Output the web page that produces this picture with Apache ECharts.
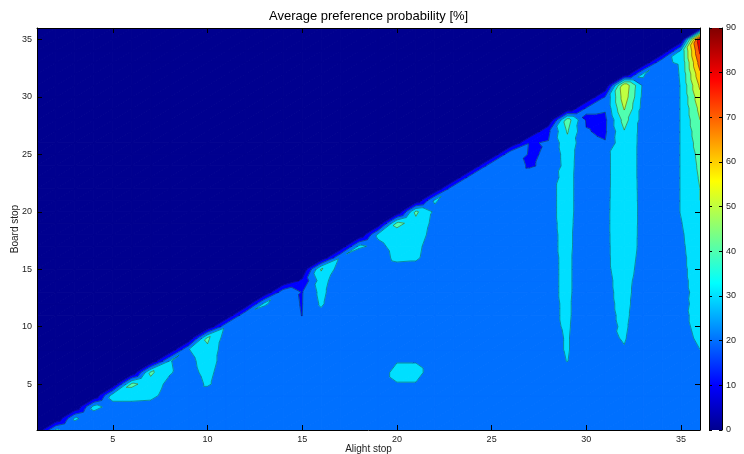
<!DOCTYPE html>
<html>
<head>
<meta charset="utf-8">
<title>Average preference probability</title>
<script src="https://cdn.jsdelivr.net/npm/echarts@6/dist/echarts.min.js"></script>
<style>
  html, body { margin: 0; padding: 0; background: #fff; }
  #chart { width: 744px; height: 454px; }
</style>
</head>
<body>
<div id="chart"></div>
<script>
// stop numbers on both axes
const alightStops = [1, 2, 3, 4, 5, 6, 7, 8, 9, 10, 11, 12, 13, 14, 15, 16, 17, 18, 19, 20, 21, 22, 23, 24, 25, 26, 27, 28, 29, 30, 31, 32, 33, 34, 35, 36]
const boardStops = [1, 2, 3, 4, 5, 6, 7, 8, 9, 10, 11, 12, 13, 14, 15, 16, 17, 18, 19, 20, 21, 22, 23, 24, 25, 26, 27, 28, 29, 30, 31, 32, 33, 34, 35, 36]
const stopTicks = [5, 10, 15, 20, 25, 30, 35]
const levels = [0, 10, 20, 30, 40, 50, 60, 70, 80, 90]

// preference probability [%]; row = board stop 1..35, values for alight stop board+1 .. 36
// (board >= alight is 0)
const prob = [
  /* b1  */ [32, 22, 22, 22, 22, 22, 22, 22, 22, 22, 22, 22, 22, 22, 22, 22, 22, 22, 22, 22, 22, 22, 22, 22, 22, 22, 22, 22, 22, 22, 22, 22, 22, 22, 22],
  /* b2  */ [32, 22, 22, 22, 22, 22, 22, 22, 22, 22, 22, 22, 22, 22, 22, 22, 22, 22, 22, 22, 22, 22, 22, 22, 22, 22, 22, 22, 22, 22, 22, 22, 22, 22],
  /* b3  */ [34, 25, 25, 24, 22, 22, 22, 22, 22, 22, 22, 22, 22, 22, 22, 22, 22, 22, 22, 22, 22, 22, 22, 22, 22, 22, 22, 22, 22, 22, 22, 22, 22],
  /* b4  */ [35, 35, 34, 24, 22, 22, 22, 22, 22, 22, 22, 22, 22, 22, 22, 22, 22, 22, 22, 22, 22, 22, 22, 22, 22, 22, 22, 22, 22, 22, 22, 22],
  /* b5  */ [42, 36, 27, 22, 32, 22, 22, 22, 22, 22, 22, 22, 22, 22, 29, 29, 22, 22, 22, 22, 22, 22, 22, 22, 22, 22, 22, 22, 22, 22, 24],
  /* b6  */ [42, 31, 25, 34, 22, 22, 22, 22, 22, 22, 22, 22, 22, 35, 35, 22, 22, 22, 22, 22, 22, 22, 23, 22, 22, 22, 22, 22, 22, 26],
  /* b7  */ [30.5, 26, 36, 24, 22, 22, 22, 22, 22, 22, 22, 22, 29, 29, 22, 22, 22, 22, 22, 22, 25, 30.3, 22, 23, 25, 22, 22, 24, 28],
  /* b8  */ [29.5, 38, 24, 22, 22, 22, 22, 22, 22, 22, 22, 22, 22, 22, 22, 22, 22, 22, 22, 26, 31, 22, 25, 29.2, 22, 22, 27, 30],
  /* b9  */ [42, 25, 22, 22, 22, 22, 22, 22, 22, 22, 22, 22, 22, 22, 22, 22, 22, 22, 26, 31, 22, 27, 31, 22, 22, 28, 31],
  /* b10 */ [28, 22, 22, 22, 22, 22, 22, 22, 22, 22, 22, 22, 22, 22, 22, 22, 22, 27, 31.5, 22, 26, 32, 22, 22, 28.5, 31.5],
  /* b11 */ [28, 22, 22, 19.9, 27, 22, 22, 22, 22, 22, 22, 22, 22, 22, 22, 22, 27, 32, 22, 26, 33, 22, 22, 28.5, 32],
  /* b12 */ [32, 22, 19.7, 31.5, 22, 22, 22, 22, 22, 22, 22, 22, 22, 22, 22, 27, 32, 22, 26, 34, 22, 22, 28, 32.5],
  /* b13 */ [26, 19.5, 33, 22, 22, 22, 22, 22, 22, 22, 22, 22, 22, 22, 27, 32.5, 22, 26, 35, 22, 22, 27.5, 33],
  /* b14 */ [12, 35, 22, 22, 22, 22, 22, 22, 22, 22, 22, 22, 22, 27, 32.5, 22, 26, 36, 22, 22, 27.5, 34],
  /* b15 */ [41, 25, 22, 22, 25, 25, 22, 22, 22, 22, 22, 22, 27, 32.5, 22, 27, 37, 24, 22, 27.5, 35],
  /* b16 */ [29, 22, 24, 33, 32, 23, 22, 22, 22, 22, 22, 27, 32.5, 22, 27, 38, 25, 22, 27.5, 36],
  /* b17 */ [32, 27, 34, 33, 24, 22, 22, 22, 22, 22, 27, 33, 22, 27, 38.5, 26, 22, 28, 37],
  /* b18 */ [32, 37, 35, 26, 22, 22, 22, 22, 22, 27, 33, 22, 27, 39, 26, 22, 28.5, 38],
  /* b19 */ [42, 37, 27, 22, 22, 22, 22, 22, 27, 33.5, 22, 27, 39.5, 26, 22, 29.5, 39],
  /* b20 */ [42, 28, 22, 22, 22, 22, 22, 27, 34, 22, 27, 39.5, 26, 22, 30.5, 39],
  /* b21 */ [31, 25, 22, 22, 22, 22, 27, 34, 22, 27, 39, 26, 22, 30.5, 40],
  /* b22 */ [28, 22, 22, 22, 22, 27, 34, 22, 27, 38.5, 26, 22, 30.5, 40],
  /* b23 */ [28, 22, 22, 22, 25, 34, 22, 27, 38, 26, 22, 30.5, 41],
  /* b24 */ [28, 22, 19.5, 21, 34.5, 22, 27, 38, 26, 22, 30.5, 42],
  /* b25 */ [28, 19, 21, 35, 22, 27, 38, 26, 22, 30.5, 43],
  /* b26 */ [19.5, 20.5, 37, 22, 20.5, 38.5, 26, 22, 30.5, 45],
  /* b27 */ [18, 41, 20.5, 18.5, 39.5, 26, 22, 30.5, 47],
  /* b28 */ [45, 19, 18, 44, 26, 22, 30.5, 50],
  /* b29 */ [21, 21, 51, 26, 22, 30.5, 53],
  /* b30 */ [20.5, 56, 27, 22, 30.5, 57],
  /* b31 */ [58, 28, 22, 30.5, 62],
  /* b32 */ [31, 22, 31, 68],
  /* b33 */ [28, 31.5, 75],
  /* b34 */ [32, 82],
  /* b35 */ [88]
]

// fill colour of each band (jet, 0..90)
const bandColors = ['#00008F', '#0000FF', '#0070FF', '#00DFFF', '#50FFAF', '#BFFF40', '#FFCF00', '#FF6000', '#EF0000']
const jetStops = [
  [0, '#00008F'], [0.111, '#0000FF'], [0.365, '#00FFFF'],
  [0.619, '#FFFF00'], [0.873, '#FF0000'], [1, '#800000']
]

function valueAt (a, b) {
  if (a <= b) return 0
  return prob[b - 1][a - b - 1]
}

const cells = []
for (const a of alightStops.slice(0, -1)) {
  for (const b of boardStops.slice(0, -1)) cells.push([a, b])
}

function isSaddle (v00, v10, v01, v11) {
  for (const lev of levels) {
    const s00 = v00 >= lev
    const s10 = v10 >= lev
    const s01 = v01 >= lev
    const s11 = v11 >= lev
    if (s00 === s11 && s10 === s01 && s00 !== s10) return true
  }
  return false
}

// split a cell into triangles: along the rising diagonal, or round the
// cell centre (mean value) when the cell is a saddle
function cellTriangles (a, b) {
  const p00 = [a, b, valueAt(a, b)]
  const p10 = [a + 1, b, valueAt(a + 1, b)]
  const p01 = [a, b + 1, valueAt(a, b + 1)]
  const p11 = [a + 1, b + 1, valueAt(a + 1, b + 1)]
  if (isSaddle(p00[2], p10[2], p01[2], p11[2])) {
    const c = [a + 0.5, b + 0.5, (p00[2] + p10[2] + p01[2] + p11[2]) / 4]
    return [[p00, p10, c], [p10, p11, c], [p11, p01, c], [p01, p00, c]]
  }
  return [[p00, p10, p11], [p00, p11, p01]]
}

function clip (poly, lim, keepAbove) {
  const out = []
  for (let i = 0; i < poly.length; i++) {
    const p = poly[i]
    const q = poly[(i + 1) % poly.length]
    const pin = keepAbove ? p[2] >= lim : p[2] <= lim
    const qin = keepAbove ? q[2] >= lim : q[2] <= lim
    if (pin) out.push(p)
    if (pin !== qin) {
      const t = (lim - p[2]) / (q[2] - p[2])
      out.push([p[0] + t * (q[0] - p[0]), p[1] + t * (q[1] - p[1]), lim])
    }
  }
  return out
}

function renderBands (params, api) {
  const children = []
  for (const tri of cellTriangles(api.value(0), api.value(1))) {
    for (let k = 0; k < levels.length - 1; k++) {
      const poly = clip(clip(tri, levels[k], true), levels[k + 1], false)
      if (poly.length < 3) continue
      children.push({
        type: 'polygon',
        shape: { points: poly.map(p => api.coord([p[0], p[1]])) },
        style: { fill: bandColors[k], stroke: bandColors[k], lineWidth: 1, lineJoin: 'round' }
      })
    }
  }
  return { type: 'group', children }
}

function renderLines (params, api) {
  const children = []
  for (const tri of cellTriangles(api.value(0), api.value(1))) {
    for (const lev of levels.slice(1, -1)) {
      const pts = []
      for (let i = 0; i < 3; i++) {
        const p = tri[i]
        const q = tri[(i + 1) % 3]
        if ((p[2] >= lev) !== (q[2] >= lev)) {
          const t = (lev - p[2]) / (q[2] - p[2])
          pts.push(api.coord([p[0] + t * (q[0] - p[0]), p[1] + t * (q[1] - p[1])]))
        }
      }
      if (pts.length === 2) {
        children.push({
          type: 'line',
          shape: { x1: pts[0][0], y1: pts[0][1], x2: pts[1][0], y2: pts[1][1] },
          style: { stroke: '#1a1a1a', lineWidth: 0.5, opacity: 0.85 }
        })
      }
    }
  }
  return { type: 'group', children }
}

const font = "'Liberation Sans', Arial, sans-serif"
const tickStyle = { color: '#000', width: 1 }

function stopAxis (pos, withLabel) {
  return {
    gridIndex: 0,
    type: 'value',
    position: pos,
    min: 1,
    max: 36,
    z: 5,
    axisLine: { show: true, onZero: false, lineStyle: tickStyle },
    axisTick: { show: true, inside: true, length: 5, customValues: stopTicks, lineStyle: tickStyle },
    axisLabel: { show: withLabel, customValues: stopTicks, fontSize: 9, color: '#222', fontFamily: font, margin: 5 },
    splitLine: { show: false }
  }
}

const chart = echarts.init(document.getElementById('chart'), null, { renderer: 'canvas' })
chart.setOption({
  animation: false,
  backgroundColor: '#fff',
  title: {
    text: 'Average preference probability [%]',
    left: 264,
    top: 5,
    textStyle: { fontSize: 13, fontWeight: 'normal', color: '#000', fontFamily: font }
  },
  grid: [
    { left: 37, right: 44, top: 28, bottom: 24, outerBoundsMode: 'none', containLabel: false },
    { left: 709, width: 13, top: 28, bottom: 24, outerBoundsMode: 'none', containLabel: false }
  ],
  xAxis: [
    Object.assign(stopAxis('bottom', true), {
      name: 'Alight stop',
      nameLocation: 'middle',
      nameGap: 14,
      nameMoveOverlap: false,
      nameTextStyle: { fontSize: 10, color: '#222', fontFamily: font }
    }),
    stopAxis('top', false),
    { gridIndex: 1, type: 'category', data: ['bar'], show: false }
  ],
  yAxis: [
    Object.assign(stopAxis('left', true), {
      name: 'Board stop',
      nameLocation: 'middle',
      nameGap: 17,
      nameMoveOverlap: false,
      nameTextStyle: { fontSize: 10, color: '#222', fontFamily: font }
    }),
    stopAxis('right', false),
    {
      gridIndex: 1,
      type: 'value',
      position: 'right',
      min: 0,
      max: 90,
      interval: 10,
      z: 5,
      axisLine: { show: true, lineStyle: tickStyle },
      axisTick: { show: true, inside: true, length: 3, lineStyle: tickStyle },
      axisLabel: { fontSize: 9, color: '#222', fontFamily: font, margin: 4 },
      splitLine: { show: false }
    },
    {
      gridIndex: 1,
      type: 'value',
      position: 'left',
      min: 0,
      max: 90,
      interval: 10,
      z: 5,
      axisLine: { show: true, lineStyle: tickStyle },
      axisTick: { show: true, inside: true, length: 3, lineStyle: tickStyle },
      axisLabel: { show: false },
      splitLine: { show: false }
    }
  ],
  series: [
    {
      type: 'custom',
      xAxisIndex: 0,
      yAxisIndex: 0,
      data: cells,
      renderItem: renderBands,
      clip: true,
      silent: true,
      z: 2
    },
    {
      type: 'custom',
      xAxisIndex: 0,
      yAxisIndex: 0,
      data: cells,
      renderItem: renderLines,
      clip: true,
      silent: true,
      z: 3
    },
    {
      type: 'bar',
      xAxisIndex: 2,
      yAxisIndex: 2,
      data: [90],
      barWidth: '100%',
      silent: true,
      itemStyle: {
        color: {
          type: 'linear', x: 0, y: 1, x2: 0, y2: 0,
          colorStops: jetStops.map(s => ({ offset: s[0], color: s[1] }))
        }
      }
    }
  ]
})
</script>
</body>
</html>
